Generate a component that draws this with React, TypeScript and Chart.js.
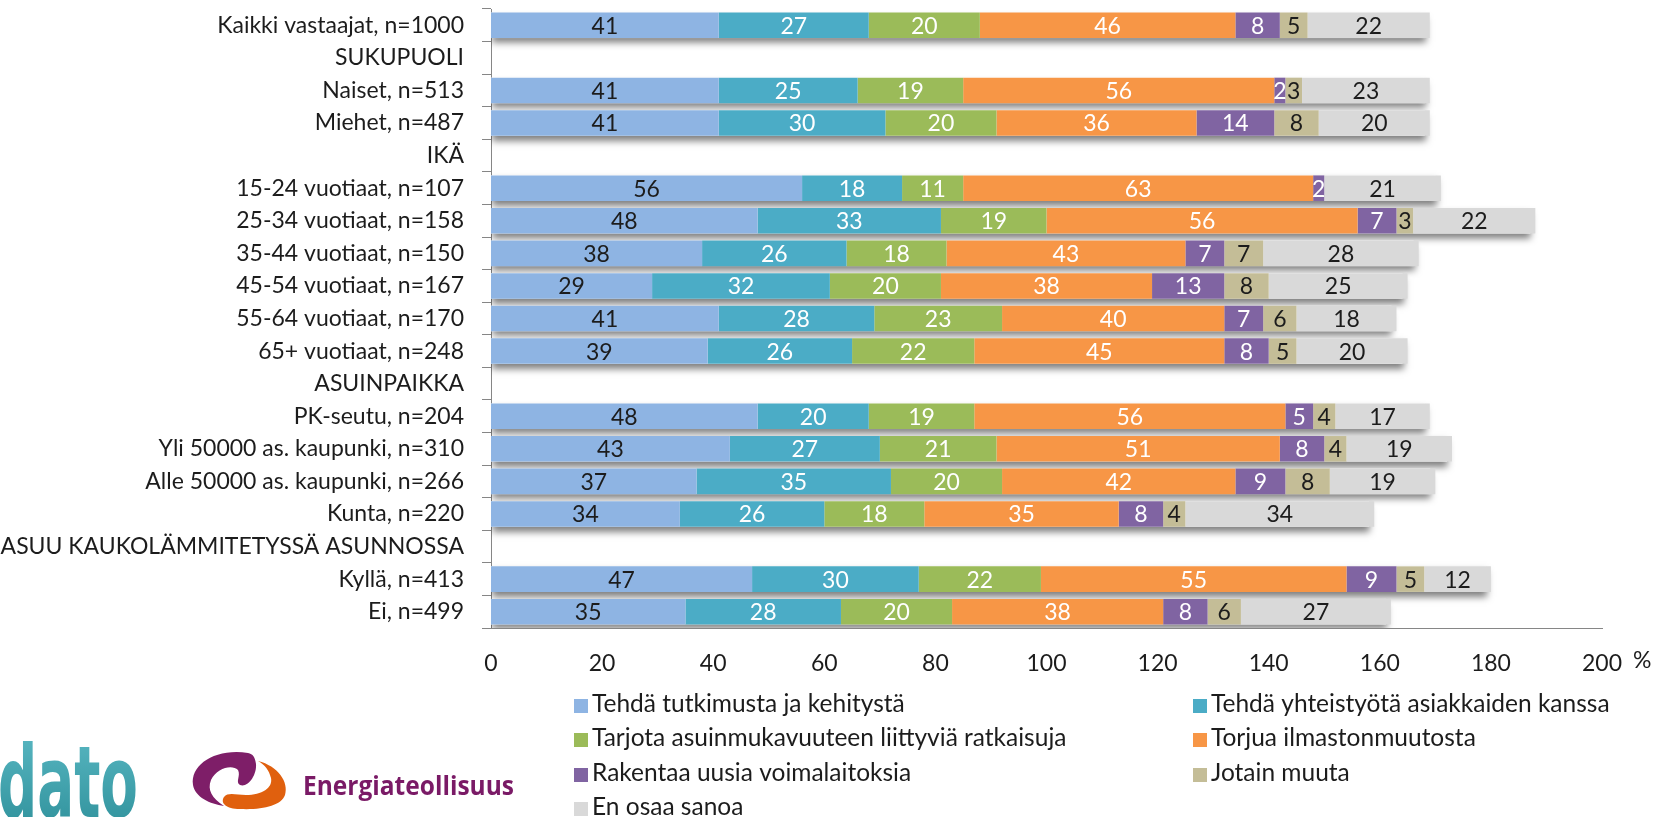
import React, { useEffect, useRef } from "react";
import { Chart, registerables } from "chart.js";

Chart.register(...registerables);

// ---------- DATA ----------
const categories: string[] = [
  "Kaikki vastaajat, n=1000",
  "SUKUPUOLI",
  "Naiset, n=513",
  "Miehet, n=487",
  "IKÄ",
  "15-24 vuotiaat, n=107",
  "25-34 vuotiaat, n=158",
  "35-44 vuotiaat, n=150",
  "45-54 vuotiaat, n=167",
  "55-64 vuotiaat, n=170",
  "65+ vuotiaat, n=248",
  "ASUINPAIKKA",
  "PK-seutu, n=204",
  "Yli 50000 as. kaupunki, n=310",
  "Alle 50000 as. kaupunki, n=266",
  "Kunta, n=220",
  "ASUU KAUKOLÄMMITETYSSÄ ASUNNOSSA",
  "Kyllä, n=413",
  "Ei, n=499",
];

const seriesNames: string[] = [
  "Tehdä tutkimusta ja kehitystä",
  "Tehdä yhteistyötä asiakkaiden kanssa",
  "Tarjota asuinmukavuuteen liittyviä ratkaisuja",
  "Torjua ilmastonmuutosta",
  "Rakentaa uusia voimalaitoksia",
  "Jotain muuta",
  "En osaa sanoa",
];

const researchDev = [41, null, 41, 41, null, 56, 48, 38, 29, 41, 39, null, 48, 43, 37, 34, null, 47, 35];
const customerCoop = [27, null, 25, 30, null, 18, 33, 26, 32, 28, 26, null, 20, 27, 35, 26, null, 30, 28];
const comfortSolutions = [20, null, 19, 20, null, 11, 19, 18, 20, 23, 22, null, 19, 21, 20, 18, null, 22, 20];
const climateChange = [46, null, 56, 36, null, 63, 56, 43, 38, 40, 45, null, 56, 51, 42, 35, null, 55, 38];
const newPlants = [8, null, 2, 14, null, 2, 7, 7, 13, 7, 8, null, 5, 8, 9, 8, null, 9, 8];
const somethingElse = [5, null, 3, 8, null, 0, 3, 7, 8, 6, 5, null, 4, 4, 8, 4, null, 5, 6];
const cannotSay = [22, null, 23, 20, null, 21, 22, 28, 25, 18, 20, null, 17, 19, 19, 34, null, 12, 27];

const seriesValues = [researchDev, customerCoop, comfortSolutions, climateChange, newPlants, somethingElse, cannotSay];

const xMin = 0;
const xMax = 200;
const xStep = 20;
const unitLabel = "%";

// ---------- STYLE ----------
const seriesColors = ["#8EB4E3", "#4BACC6", "#9BBB59", "#F79646", "#8064A2", "#C4BD97", "#D9D9D9"];
const labelColors = ["#1c1c1c", "#ffffff", "#ffffff", "#ffffff", "#ffffff", "#1c1c1c", "#1c1c1c"];
const FONT_FAMILY = "Lato, 'Open Sans', sans-serif";
const FONT_SIZE = 23;
const LEGEND_FONT_SIZE = 24.5;
const TEXT_COLOR = "#1c1c1c";
const AXIS_COLOR = "#868686";

const W = 1655;
const H = 817;

const shadowPlugin = {
  id: "barShadow",
  beforeDatasetsDraw(chart: any) {
    const { ctx, chartArea, scales } = chart;
    const meta0 = chart.getDatasetMeta(0);
    ctx.save();
    ctx.beginPath();
    ctx.rect(chartArea.left, chartArea.top, chartArea.right - chartArea.left, chartArea.bottom - chartArea.top);
    ctx.clip();
    ctx.shadowColor = "rgba(0,0,0,0.5)";
    ctx.shadowBlur = 7;
    ctx.shadowOffsetY = 5;
    ctx.shadowOffsetX = 1;
    ctx.fillStyle = "#ffffff";
    categories.forEach((_, i) => {
      let total = 0;
      chart.data.datasets.forEach((ds: any) => {
        total += ds.data[i] || 0;
      });
      if (!total) return;
      const el = meta0.data[i];
      const h = el.height;
      const x0 = scales.x.getPixelForValue(0);
      const x1 = scales.x.getPixelForValue(total);
      ctx.fillRect(x0, el.y - h / 2, x1 - x0 - 5, h);
    });
    ctx.restore();
  },
};

const labelPlugin = {
  id: "segmentLabels",
  afterDatasetsDraw(chart: any) {
    const { ctx } = chart;
    ctx.save();
    ctx.font = `${FONT_SIZE}px ${FONT_FAMILY}`;
    ctx.textAlign = "center";
    ctx.textBaseline = "middle";
    chart.data.datasets.forEach((ds: any, di: number) => {
      const meta = chart.getDatasetMeta(di);
      meta.data.forEach((el: any, i: number) => {
        const v = ds.data[i];
        if (!v) return;
        const { x, base, y } = el.getProps(["x", "base", "y"], true);
        ctx.fillStyle = labelColors[di];
        ctx.fillText(String(v), (x + base) / 2, y + 1);
      });
    });
    ctx.restore();
  },
};

const legendPlugin = {
  id: "customLegend",
  afterDraw(chart: any) {
    const { ctx, scales } = chart;
    ctx.save();
    ctx.font = `${LEGEND_FONT_SIZE}px ${FONT_FAMILY}`;
    ctx.textBaseline = "alphabetic";
    ctx.textAlign = "left";
    const colX = [574, 1193];
    const rowBase = [712, 746, 781, 815];
    seriesNames.forEach((name, i) => {
      const col = i % 2;
      const row = Math.floor(i / 2);
      const bx = colX[col];
      const by = rowBase[row];
      ctx.fillStyle = seriesColors[i];
      ctx.fillRect(bx, by - 13, 14, 14);
      ctx.fillStyle = TEXT_COLOR;
      ctx.fillText(name, bx + 18, by);
    });
    // unit label
    ctx.font = `${FONT_SIZE}px ${FONT_FAMILY}`;
    ctx.fillText(unitLabel, scales.x.right + 31, 668);
    ctx.restore();
  },
};

function Logos() {
  return (
    <svg
      width={530}
      height={120}
      viewBox="0 697 530 120"
      style={{ position: "absolute", left: 0, top: 697 }}
    >
      <defs>
        <linearGradient id="datoGrad" x1="0" y1="0" x2="0" y2="1">
          <stop offset="0" stopColor="#5BB9C4" />
          <stop offset="1" stopColor="#2C8E98" />
        </linearGradient>
      </defs>
      <text
        x={-2}
        y={817}
        fontFamily="'DejaVu Sans Condensed', 'DejaVu Sans', sans-serif"
        fontWeight="bold"
        fontSize={100}
        fill="url(#datoGrad)"
        textLength={140}
        lengthAdjust="spacingAndGlyphs"
      >
        dato
      </text>
      <path
        d="M 248 753 C 215 748, 190 765, 193 785 C 195 797, 210 804, 224 806 C 212 798, 207 790, 211 780 C 217 768, 232 764, 238 770 C 241 776, 235 782, 240 785 C 248 788, 257 775, 256 764 C 255 757, 253 754, 248 753 Z"
        fill="#7E1E68"
      />
      <path
        d="M 258 761 C 278 766, 289 782, 285 795 C 281 806, 262 810, 240 809 C 226 809, 220 803, 224 797 C 228 792, 236 795, 246 795 C 262 795, 273 788, 271 778 C 269 770, 265 765, 258 761 Z"
        fill="#E0600E"
      />
      <text
        x={303}
        y={795}
        fontFamily="'Open Sans', 'Noto Sans', sans-serif"
        fontWeight={700}
        fontSize={27}
        fill="#7A1A66"
        textLength={211}
        lengthAdjust="spacingAndGlyphs"
      >
        Energiateollisuus
      </text>
    </svg>
  );
}

export default function App() {
  const canvasRef = useRef<HTMLCanvasElement | null>(null);

  useEffect(() => {
    if (!canvasRef.current) return;
    const xTicks: number[] = [];
    for (let v = xMin; v <= xMax; v += xStep) xTicks.push(v);

    const chart = new Chart(canvasRef.current, {
      type: "bar",
      data: {
        labels: categories,
        datasets: seriesNames.map((name, i) => ({
          label: name,
          data: seriesValues[i] as any,
          backgroundColor: seriesColors[i],
          borderWidth: 0,
          barPercentage: 0.785,
          categoryPercentage: 1,
        })),
      },
      options: {
        indexAxis: "y",
        responsive: false,
        animation: false,
        events: [],
        layout: { padding: { left: 0, right: 53, top: 9, bottom: 0 } },
        plugins: {
          legend: { display: false },
          tooltip: { enabled: false },
          title: { display: false },
        },
        scales: {
          x: {
            stacked: true,
            min: xMin,
            max: xMax,
            afterBuildTicks: (s: any) => {
              s.ticks = xTicks.map((v) => ({ value: v }));
            },
            ticks: {
              stepSize: xStep,
              padding: 22,
              color: TEXT_COLOR,
              font: { family: FONT_FAMILY, size: FONT_SIZE },
              maxRotation: 0,
              autoSkip: false,
            },
            grid: { display: false, drawTicks: false },
            border: { display: true, color: AXIS_COLOR, width: 1 },
            afterFit: (s: any) => {
              s.height = H - 628;
            },
          },
          y: {
            stacked: true,
            ticks: {
              padding: 18,
              color: TEXT_COLOR,
              font: { family: FONT_FAMILY, size: FONT_SIZE },
              autoSkip: false,
            },
            grid: {
              display: true,
              drawOnChartArea: false,
              drawTicks: true,
              tickLength: 9,
              color: AXIS_COLOR,
              offset: true,
            },
            border: { display: true, color: AXIS_COLOR, width: 1 },
            afterFit: (s: any) => {
              s.width = 491;
              s.paddingTop = 0;
              s.paddingBottom = 0;
            },
          },
        },
      },
      plugins: [shadowPlugin, labelPlugin, legendPlugin],
    });
    return () => chart.destroy();
  }, []);

  return (
    <div style={{ position: "absolute", left: 0, top: 0, width: W, height: H, background: "#ffffff", overflow: "hidden" }}>
      <canvas ref={canvasRef} width={W} height={H} style={{ width: W, height: H, display: "block" }} />
      <Logos />
    </div>
  );
}
